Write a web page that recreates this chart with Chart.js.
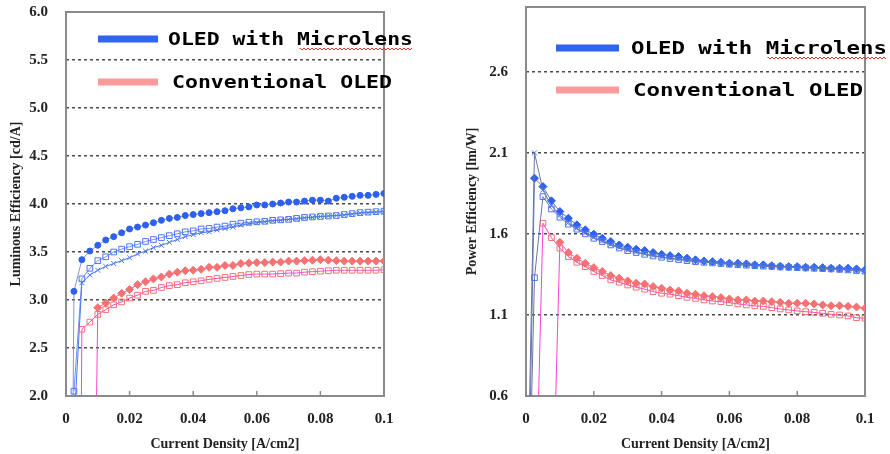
<!DOCTYPE html>
<html>
<head>
<meta charset="utf-8">
<script src="https://cdn.jsdelivr.net/npm/chart.js@4"></script>
<style>
	body { margin: 0; background: #fff; }
	.panel { position: absolute; top: 0; width: 445px; height: 454px; }
</style>
</head>
<body>
<div class="panel" style="left:0"><canvas id="lumChart" width="445" height="454"></canvas></div>
<div class="panel" style="left:445px"><canvas id="pwrChart" width="445" height="454"></canvas></div>
<script>
// Current density points (A/cm2)
const currentDensity = [
	0.0025, 0.005, 0.0075, 0.01, 0.0125, 0.015, 0.0175, 0.02, 0.0225, 0.025,
	0.0275, 0.03, 0.0325, 0.035, 0.0375, 0.04, 0.0425, 0.045, 0.0475, 0.05,
	0.0525, 0.055, 0.0575, 0.06, 0.0625, 0.065, 0.0675, 0.07, 0.0725, 0.075,
	0.0775, 0.08, 0.0825, 0.085, 0.0875, 0.09, 0.0925, 0.095, 0.0975, 0.1
];

const xTickValues = [0, 0.02, 0.04, 0.06, 0.08, 0.1];
const xTickLabels = ['0', '0.02', '0.04', '0.06', '0.08', '0.1'];
const lumTickValues = [2.0, 2.5, 3.0, 3.5, 4.0, 4.5, 5.0, 5.5, 6.0];
const lumTickLabels = ['2.0', '2.5', '3.0', '3.5', '4.0', '4.5', '5.0', '5.5', '6.0'];
const pwrTickValues = [0.6, 1.1, 1.6, 2.1, 2.6];
const pwrTickLabels = ['0.6', '1.1', '1.6', '2.1', '2.6'];
const legendLabels = ['OLED with Microlens', 'Conventional OLED'];

// Luminous efficiency [cd/A] - OLED with microlens
const lumMicroCircles = [
	3.09, 3.42, 3.51, 3.57, 3.625, 3.66, 3.70, 3.74, 3.76, 3.78,
	3.805, 3.83, 3.85, 3.86, 3.88, 3.89, 3.90, 3.91, 3.92, 3.93,
	3.95, 3.96, 3.97, 3.99, 3.99, 4.00, 4.01, 4.02, 4.02, 4.03,
	4.04, 4.04, 4.03, 4.06, 4.07, 4.08, 4.09, 4.09, 4.10, 4.11
];
const lumMicroSquares = [
	2.05, 3.22, 3.33, 3.41, 3.45, 3.50, 3.53, 3.555, 3.58, 3.61,
	3.63, 3.65, 3.67, 3.69, 3.71, 3.72, 3.74, 3.745, 3.76, 3.77,
	3.79, 3.80, 3.81, 3.815, 3.82, 3.83, 3.835, 3.84, 3.85, 3.86,
	3.865, 3.87, 3.875, 3.88, 3.89, 3.90, 3.91, 3.915, 3.92, 3.925
];
const lumMicroCrosses = [
	1.70, 3.18, 3.26, 3.31, 3.35, 3.38, 3.41, 3.44, 3.48, 3.51,
	3.545, 3.57, 3.60, 3.63, 3.66, 3.68, 3.70, 3.71, 3.73, 3.745,
	3.76, 3.78, 3.795, 3.805, 3.815, 3.825, 3.83, 3.84, 3.845, 3.855,
	3.86, 3.87, 3.875, 3.88, 3.885, 3.895, 3.905, 3.91, 3.915, 3.92
];
// Luminous efficiency [cd/A] - conventional OLED
const lumConvDiamonds = [
	2.92, 2.97, 3.02, 3.07, 3.11, 3.16, 3.19, 3.22, 3.24, 3.27,
	3.29, 3.305, 3.31, 3.32, 3.34, 3.34, 3.36, 3.36, 3.38, 3.385,
	3.39, 3.39, 3.395, 3.395, 3.405, 3.405, 3.41, 3.415, 3.42, 3.415,
	3.41, 3.405, 3.405, 3.405, 3.405, 3.405, 3.405
];
const lumConvSquares = [
	2.695, 2.77, 2.85, 2.90, 2.95, 2.98, 3.02, 3.05, 3.09, 3.10,
	3.13, 3.15, 3.16, 3.18, 3.19, 3.20, 3.215, 3.225, 3.235, 3.245,
	3.255, 3.265, 3.27, 3.27, 3.27, 3.275, 3.28, 3.28, 3.29, 3.295,
	3.30, 3.305, 3.31, 3.31, 3.31, 3.31, 3.31, 3.31, 3.315
];
// first (off-scale) readings before each curve [x, y]
const lumMicroCirclesLead = [0.002, 1.0];
const lumConvDiamondsLead = [0.009, 0.5];
const lumConvSquaresLead = [0.0045, 0.5];

// Power efficiency [lm/W] - OLED with microlens
const pwrMicroDiamonds = [
	1.944, 1.892, 1.804, 1.738, 1.697, 1.656, 1.625, 1.598, 1.573, 1.553,
	1.532, 1.518, 1.505, 1.497, 1.485, 1.474, 1.466, 1.46, 1.45, 1.44,
	1.433, 1.429, 1.425, 1.419, 1.419, 1.415, 1.409, 1.409, 1.404, 1.40,
	1.398, 1.398, 1.394, 1.394, 1.392, 1.388, 1.388, 1.388, 1.384, 1.378
];
const pwrMicroSquares = [
	1.33, 1.83, 1.754, 1.703, 1.66, 1.629, 1.60, 1.573, 1.553, 1.532,
	1.513, 1.497, 1.485, 1.474, 1.464, 1.456, 1.448, 1.442, 1.435, 1.429,
	1.425, 1.421, 1.417, 1.413, 1.41, 1.407, 1.404, 1.401, 1.399, 1.396,
	1.394, 1.392, 1.39, 1.388, 1.386, 1.384, 1.381, 1.378, 1.374, 1.37
];
const pwrMicroCrosses = [
	2.10, 1.87, 1.775, 1.715, 1.67, 1.635, 1.605, 1.578, 1.556, 1.536,
	1.517, 1.50, 1.488, 1.477, 1.467, 1.458, 1.45, 1.444, 1.437, 1.431,
	1.426, 1.422, 1.418, 1.414, 1.411, 1.408, 1.405, 1.402, 1.399, 1.397,
	1.395, 1.392, 1.39, 1.388, 1.386, 1.384, 1.381, 1.378, 1.375, 1.371
];
// Power efficiency [lm/W] - conventional OLED
const pwrConvDiamonds = [
	1.548, 1.485, 1.45, 1.419, 1.392, 1.368, 1.343, 1.327, 1.31, 1.296,
	1.291, 1.275, 1.265, 1.254, 1.248, 1.234, 1.228, 1.219, 1.213, 1.207,
	1.199, 1.193, 1.193, 1.186, 1.186, 1.182, 1.178, 1.172, 1.172, 1.172,
	1.168, 1.162, 1.157, 1.157, 1.153, 1.149, 1.141
];
const pwrConvSquares = [
	1.666, 1.577, 1.512, 1.46, 1.425, 1.398, 1.368, 1.343, 1.316, 1.302,
	1.285, 1.271, 1.259, 1.244, 1.234, 1.228, 1.219, 1.209, 1.202, 1.193,
	1.186, 1.182, 1.176, 1.168, 1.162, 1.156, 1.153, 1.145, 1.137, 1.131,
	1.125, 1.12, 1.116, 1.11, 1.104, 1.10, 1.094, 1.083, 1.08
];
const pwrMicroDiamondsLead = [0.0008, 0];
const pwrMicroSquaresLead = [0.001, 0];
const pwrMicroCrossesLead = [0.0005, 0];
const pwrConvDiamondsLead = [0.008, 0];
const pwrConvSquaresLead = [0.003, 0];

// Цвета
const BLUE = '#2c60ee';
const BLUE_OPEN = '#4a78f2';
const PINK = '#f47272';
const MAGENTA = '#ff44cc';

// Склеиваем x и y (серии короче начинаются позже)
function toPoints(lead, values) {
	const offset = currentDensity.length - values.length;
	const pts = values.map((v, i) => ({ x: currentDensity[offset + i], y: v }));
	if (lead) pts.unshift({ x: lead[0], y: lead[1] });
	return pts;
}

function series(data, style) {
	return Object.assign({
		data: data,
		showLine: true,
		borderWidth: 1,
		pointBorderWidth: 1,
		tension: 0
	}, style);
}

// Рамка графика и внутренние засечки оси X
const framePlugin = {
	id: 'frame',
	beforeDatasetsDraw(chart) {
		const { ctx, chartArea: a } = chart;
		const x = chart.scales.x;
		ctx.save();
		ctx.strokeStyle = '#8a8a8a';
		ctx.lineWidth = 2;
		ctx.strokeRect(a.left, a.top, a.right - a.left, a.bottom - a.top);
		ctx.lineWidth = 1.5;
		xTickValues.forEach(v => {
			const px = x.getPixelForValue(v);
			ctx.beginPath();
			ctx.moveTo(px, a.bottom);
			ctx.lineTo(px, a.bottom - 5);
			ctx.stroke();
		});
		ctx.restore();
	}
};

// Легенда внутри области графика
const legendPlugin = {
	id: 'insideLegend',
	afterDraw(chart, args, opts) {
		const ctx = chart.ctx;
		ctx.save();
		opts.items.forEach(item => {
			ctx.strokeStyle = item.color;
			ctx.lineWidth = 7;
			ctx.beginPath();
			ctx.moveTo(item.x0, item.y);
			ctx.lineTo(item.x1, item.y);
			ctx.stroke();

			ctx.font = 'bold 18px "DejaVu Sans Mono"';
			ctx.fillStyle = '#000';
			ctx.textBaseline = 'middle';
			const w = ctx.measureText(item.text).width;
			ctx.save();
			ctx.translate(item.tx, item.y + 1);
			ctx.scale(item.width / w, 1);
			ctx.fillText(item.text, 0, 0);
			ctx.restore();
		});
		// красное волнистое подчеркивание
		const s = opts.squiggle;
		ctx.strokeStyle = '#e83030';
		ctx.lineWidth = 1;
		ctx.beginPath();
		ctx.moveTo(s.x0, s.y);
		for (let px = s.x0, k = 0; px <= s.x1; px += 2, k++) {
			ctx.lineTo(px, s.y + (k % 2 ? 1 : -1));
		}
		ctx.stroke();
		ctx.restore();
	}
};

const tickFont = { family: '"Liberation Serif", serif', size: 15, weight: 'bold' };
const titleFont = { family: '"Liberation Serif", serif', size: 14, weight: 'bold' };

function buildScales(yTicks, yLabels, yMin, yMax, yTitle, yWidth, yTitlePad) {
	return {
		x: {
			type: 'linear',
			min: 0,
			max: 0.1,
			afterBuildTicks: s => { s.ticks = xTickValues.map(v => ({ value: v })); },
			afterFit: s => { s.height = 58; },
			grid: { display: false, drawTicks: false },
			border: { display: false },
			ticks: {
				padding: 14,
				maxRotation: 0,
				autoSkip: false,
				color: '#222',
				font: tickFont,
				callback: (v, i) => xTickLabels[i]
			},
			title: {
				display: true,
				text: 'Current Density [A/cm2]',
				color: '#222',
				font: titleFont,
				padding: { top: 0, bottom: 1 }
			}
		},
		y: {
			type: 'linear',
			min: yMin,
			max: yMax,
			afterBuildTicks: s => { s.ticks = yTicks.map(v => ({ value: v })); },
			afterFit: s => {
				s.width = yWidth;
				// отступы подписей не должны сдвигать область графика
				s.paddingTop = 0;
				s.paddingBottom = 0;
			},
			grid: { color: '#4a4a4a', lineWidth: 1.5, drawTicks: false },
			border: { display: false, dash: [3, 3] },
			ticks: {
				padding: 18,
				autoSkip: false,
				color: '#222',
				font: tickFont,
				callback: (v, i) => yLabels[i]
			},
			title: {
				display: true,
				text: yTitle,
				color: '#222',
				font: titleFont,
				padding: { top: yTitlePad, bottom: 0 }
			}
		}
	};
}

Chart.defaults.animation = false;

// Левый график: световая эффективность
new Chart(document.getElementById('lumChart'), {
	type: 'scatter',
	data: {
		datasets: [
			series(toPoints(lumConvSquaresLead, lumConvSquares), {
				borderColor: MAGENTA, pointStyle: 'rect', pointRadius: 4,
				pointBorderColor: PINK, pointBackgroundColor: 'rgba(255,255,255,0)'
			}),
			series(toPoints(lumConvDiamondsLead, lumConvDiamonds), {
				borderColor: MAGENTA, pointStyle: 'rectRot', pointRadius: 4,
				pointBorderColor: PINK, pointBackgroundColor: PINK
			}),
			series(toPoints(null, lumMicroCrosses), {
				borderColor: BLUE_OPEN, pointStyle: 'crossRot', pointRadius: 3.5,
				pointBorderColor: BLUE_OPEN
			}),
			series(toPoints(null, lumMicroSquares), {
				borderColor: '#6f8ff5', pointStyle: 'rect', pointRadius: 4,
				pointBorderColor: BLUE_OPEN, pointBackgroundColor: 'rgba(255,255,255,0)'
			}),
			series(toPoints(lumMicroCirclesLead, lumMicroCircles), {
				borderColor: '#8a96c4', pointStyle: 'circle', pointRadius: 3,
				pointBorderColor: BLUE, pointBackgroundColor: BLUE
			})
		]
	},
	options: {
		responsive: false,
		layout: { padding: { left: 0, top: 12, right: 61, bottom: 0 } },
		plugins: {
			legend: { display: false },
			tooltip: { enabled: false },
			insideLegend: {
				items: [
					{ text: legendLabels[0], color: '#2f64f2', x0: 98, x1: 158, y: 39, tx: 168, width: 245 },
					{ text: legendLabels[1], color: '#ff9a9a', x0: 98, x1: 158, y: 82, tx: 172, width: 220 }
				],
				squiggle: { x0: 300, x1: 413, y: 49 }
			}
		},
		scales: buildScales(lumTickValues, lumTickLabels, 2, 6, 'Luminous Efficiency [cd/A]', 66, 8)
	},
	plugins: [framePlugin, legendPlugin]
});

// Правый график: энергетическая эффективность
new Chart(document.getElementById('pwrChart'), {
	type: 'scatter',
	data: {
		datasets: [
			series(toPoints(pwrConvSquaresLead, pwrConvSquares), {
				borderColor: MAGENTA, pointStyle: 'rect', pointRadius: 4,
				pointBorderColor: PINK, pointBackgroundColor: 'rgba(255,255,255,0)'
			}),
			series(toPoints(pwrConvDiamondsLead, pwrConvDiamonds), {
				borderColor: MAGENTA, pointStyle: 'rectRot', pointRadius: 4,
				pointBorderColor: PINK, pointBackgroundColor: PINK
			}),
			series(toPoints(pwrMicroCrossesLead, pwrMicroCrosses), {
				borderColor: '#6a74a8', pointStyle: 'crossRot', pointRadius: 3.5,
				pointBorderColor: BLUE_OPEN
			}),
			series(toPoints(pwrMicroSquaresLead, pwrMicroSquares), {
				borderColor: '#6a74a8', pointStyle: 'rect', pointRadius: 4,
				pointBorderColor: BLUE_OPEN, pointBackgroundColor: 'rgba(255,255,255,0)'
			}),
			series(toPoints(pwrMicroDiamondsLead, pwrMicroDiamonds), {
				borderColor: '#6a74a8', pointStyle: 'rectRot', pointRadius: 4,
				pointBorderColor: BLUE, pointBackgroundColor: BLUE
			})
		]
	},
	options: {
		responsive: false,
		layout: { padding: { left: 0, top: 7, right: 25, bottom: 0 } },
		plugins: {
			legend: { display: false },
			tooltip: { enabled: false },
			insideLegend: {
				items: [
					{ text: legendLabels[0], color: '#2f64f2', x0: 111, x1: 174, y: 48, tx: 186, width: 256 },
					{ text: legendLabels[1], color: '#ff9a9a', x0: 111, x1: 174, y: 90, tx: 188, width: 230 }
				],
				squiggle: { x0: 323, x1: 442, y: 58 }
			}
		},
		scales: buildScales(pwrTickValues, pwrTickLabels, 0.6, 3.0, 'Power Efficiency [lm/W]', 81, 19)
	},
	plugins: [framePlugin, legendPlugin]
});
</script>
</body>
</html>
